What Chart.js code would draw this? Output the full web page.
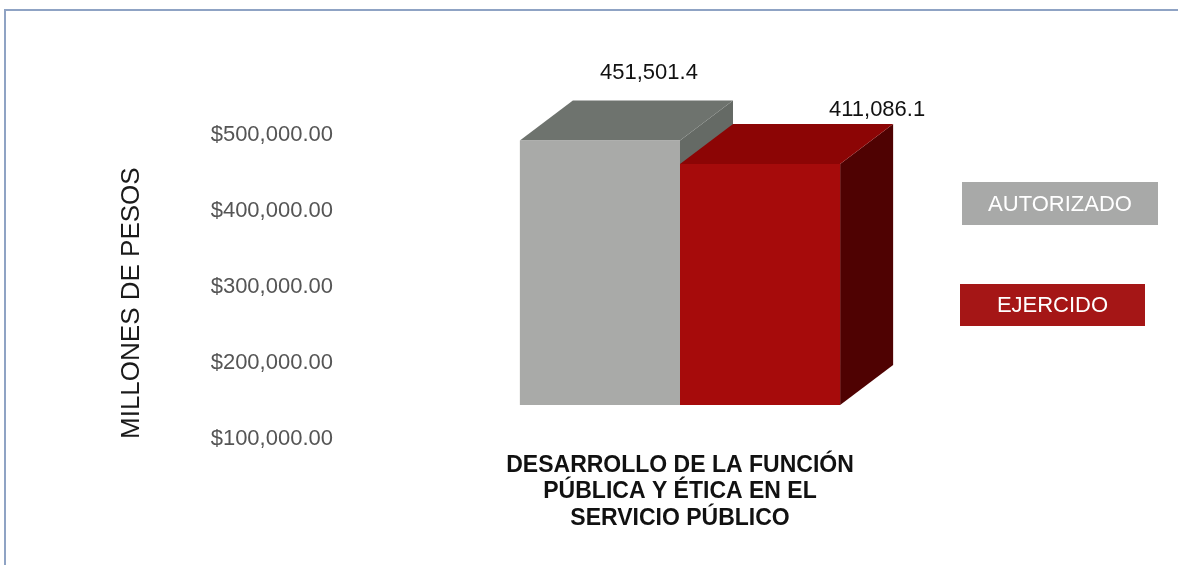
<!DOCTYPE html>
<html>
<head>
<meta charset="utf-8">
<script src="https://cdn.jsdelivr.net/npm/chart.js@4"></script>
<style>
html, body { margin: 0; padding: 0; background: #fff; }
#wrap { position: relative; width: 1178px; height: 565px; overflow: hidden; }
#frame { position: absolute; left: 4px; top: 9px; width: 1200px; height: 600px;
         border-top: 2px solid #8fa3c4; border-left: 2px solid #8fa3c4; pointer-events: none; }
</style>
</head>
<body>
<div id="wrap">
  <canvas id="chart" width="1178" height="565"></canvas>
  <div id="frame"></div>
</div>
<script>
// data
const categories = [['DESARROLLO DE LA FUNCIÓN', 'PÚBLICA Y ÉTICA EN EL', 'SERVICIO PÚBLICO']]
const seriesNames = ['AUTORIZADO', 'EJERCIDO']
const autorizado = [451501.4]
const ejercido = [411086.1]
const yTicks = [100000, 200000, 300000, 400000, 500000]

// colours: front, top, side
const frontColors = ['#a9aaa8', '#a60b0b']
const topColors = ['#6e736e', '#8c0505']
const sideColors = ['#656a65', '#4f0202']

// the bars sit on a projected "floor" that does not line up with the tick labels
const barScaleMin = -58000
const barScaleMax = 460750
const depth = {dx: 53, dy: -40}

const money = v => '$' + v.toLocaleString('en-US', {minimumFractionDigits: 2, maximumFractionDigits: 2})
const fmt = v => v.toLocaleString('en-US', {minimumFractionDigits: 1, maximumFractionDigits: 1})

const bar3d = {
    id: 'bar3d',
    // side and top faces first, the front faces drawn by the chart go over them
    beforeDatasetsDraw(chart) {
        const ctx = chart.ctx
        chart.data.datasets.forEach((ds, i) => {
            chart.getDatasetMeta(i).data.forEach(bar => {
                const {x, y, base, width} = bar.getProps(['x', 'y', 'base', 'width'], true)
                const l = x - width / 2, r = x + width / 2
                ctx.save()
                ctx.fillStyle = sideColors[i]
                ctx.beginPath()
                ctx.moveTo(r, y)
                ctx.lineTo(r + depth.dx, y + depth.dy)
                ctx.lineTo(r + depth.dx, base + depth.dy)
                ctx.lineTo(r, base)
                ctx.closePath()
                ctx.fill()
                ctx.fillStyle = topColors[i]
                ctx.beginPath()
                ctx.moveTo(l, y)
                ctx.lineTo(l + depth.dx, y + depth.dy)
                ctx.lineTo(r + depth.dx, y + depth.dy)
                ctx.lineTo(r, y)
                ctx.closePath()
                ctx.fill()
                ctx.restore()
            })
        })
    },
    afterDraw(chart) {
        const ctx = chart.ctx
        const labelOffsets = [{dx: 49, dy: -67}, {dx: 117, dy: -54}]
        ctx.save()
        ctx.font = '22px "Liberation Sans", Arial, sans-serif'
        ctx.fillStyle = '#111'
        ctx.textAlign = 'center'
        ctx.textBaseline = 'middle'
        chart.data.datasets.forEach((ds, i) => {
            chart.getDatasetMeta(i).data.forEach((bar, j) => {
                ctx.fillText(fmt(ds.data[j]), bar.x + labelOffsets[i].dx, bar.y + labelOffsets[i].dy)
            })
        })
        // legend boxes
        const boxes = [{x: 962, y: 182, w: 196, h: 43}, {x: 960, y: 284, w: 185, h: 42}]
        const legendColors = ['#a8a9a8', '#a51616']
        chart.data.datasets.forEach((ds, i) => {
            const b = boxes[i]
            ctx.fillStyle = legendColors[i]
            ctx.fillRect(b.x, b.y, b.w, b.h)
            ctx.fillStyle = '#fff'
            ctx.fillText(ds.label, b.x + b.w / 2, b.y + b.h / 2 + 1)
        })
        ctx.restore()
    }
}

new Chart(document.getElementById('chart'), {
    type: 'bar',
    data: {
        labels: categories,
        datasets: [
            {label: seriesNames[0], data: autorizado, backgroundColor: frontColors[0], yAxisID: 'y2', clip: false},
            {label: seriesNames[1], data: ejercido, backgroundColor: frontColors[1], yAxisID: 'y2', clip: false}
        ]
    },
    options: {
        responsive: false,
        animation: false,
        devicePixelRatio: 1,
        categoryPercentage: 0.478,
        barPercentage: 1,
        layout: {padding: {top: 135, left: 100, right: 163, bottom: 0}},
        plugins: {legend: {display: false}, tooltip: {enabled: false}},
        scales: {
            x: {
                grid: {display: false, drawTicks: false},
                border: {display: false},
                ticks: {
                    padding: 13,
                    color: '#111',
                    maxRotation: 0,
                    font: {family: '"Liberation Sans", Arial, sans-serif', size: 23, weight: 'bold', lineHeight: 1.16}
                },
                afterFit: s => { s.height = 126 }
            },
            y: {
                position: 'left',
                min: 100000,
                max: 500000,
                grid: {display: false, drawTicks: false},
                border: {display: false},
                afterBuildTicks: s => { s.ticks = yTicks.map(v => ({value: v})) },
                ticks: {
                    padding: 12,
                    color: '#555',
                    font: {family: '"Liberation Sans", Arial, sans-serif', size: 22},
                    callback: v => money(v)
                },
                title: {
                    display: true,
                    text: 'MILLONES DE PESOS',
                    align: 'start',
                    color: '#1a1a1a',
                    padding: {top: 16, bottom: 0},
                    font: {family: '"Liberation Sans", Arial, sans-serif', size: 26}
                },
                afterFit: s => { s.width = 245 }
            },
            y2: {
                display: false,
                min: barScaleMin,
                max: barScaleMax
            }
        }
    },
    plugins: [bar3d]
})
</script>
</body>
</html>
